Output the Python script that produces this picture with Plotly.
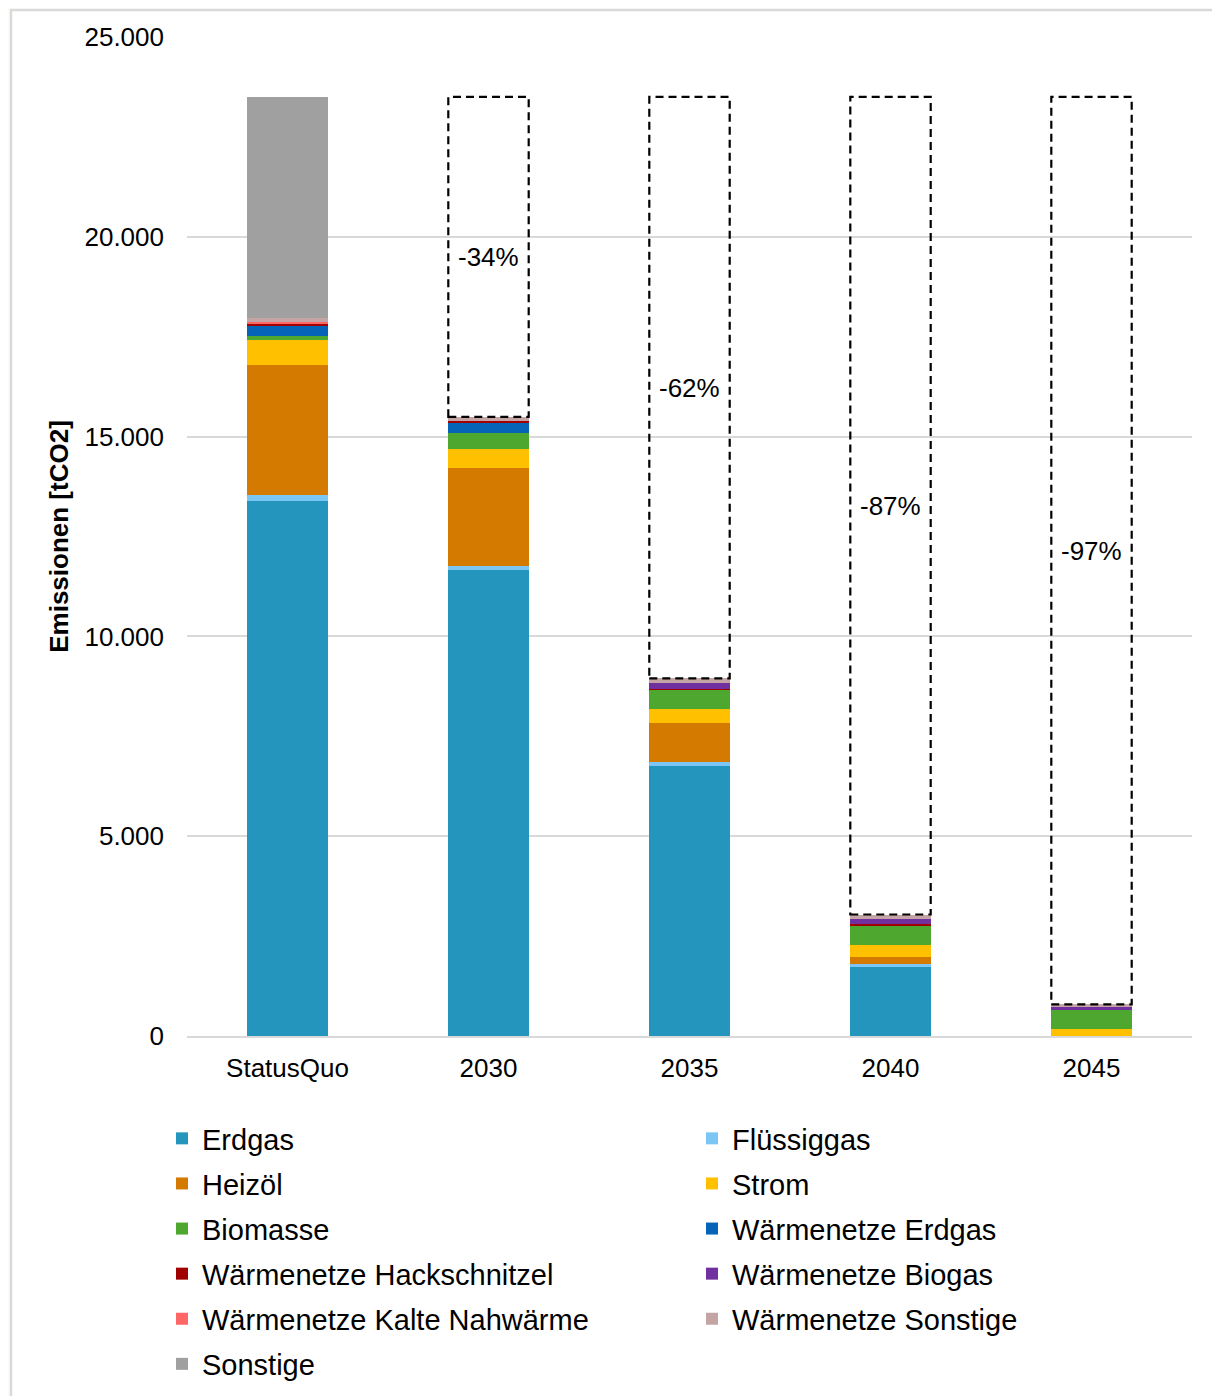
import plotly.graph_objects as go

categories = ["StatusQuo", "2030", "2035", "2040", "2045"]

erdgas = [13400, 11670, 6760, 1735, 0]
fluessiggas = [140, 100, 100, 60, 0]
heizoel = [3250, 2450, 985, 190, 0]
strom = [625, 475, 335, 290, 170]
biomasse = [100, 390, 490, 500, 480]
wn_erdgas = [275, 260, 0, 0, 0]
wn_hackschnitzel = [40, 40, 25, 30, 0]
wn_biogas = [0, 0, 140, 135, 100]
wn_kalte = [30, 0, 0, 0, 0]
wn_sonstige = [110, 110, 115, 100, 40]
sonstige = [5530, 0, 0, 0, 0]

series_names = ["Erdgas", "Flüssiggas", "Heizöl", "Strom", "Biomasse",
                "Wärmenetze Erdgas", "Wärmenetze Hackschnitzel", "Wärmenetze Biogas",
                "Wärmenetze Kalte Nahwärme", "Wärmenetze Sonstige", "Sonstige"]
series_values = [erdgas, fluessiggas, heizoel, strom, biomasse, wn_erdgas,
                 wn_hackschnitzel, wn_biogas, wn_kalte, wn_sonstige, sonstige]
series_colors = ["#2496BE", "#7CC6F5", "#D47A00", "#FFC000", "#4EA72E",
                 "#0563B8", "#A00000", "#7030A0", "#FF6666", "#C4A4A4", "#A0A0A0"]
# legend column: 6 left, 5 right (row-major reading)
legend_cols = ["legend", "legend2", "legend", "legend2", "legend", "legend2",
               "legend", "legend2", "legend", "legend2", "legend"]

y_ticks = [0, 5000, 10000, 15000, 20000, 25000]

OFF = 8  # default page body margin
W, H = 1220 - OFF, 1396 - OFF
ML, MT = 187 - OFF, 37 - OFF
pw, ph = 1005, 999
MR = W - ML - pw
MB = H - MT - ph

xpos = list(range(len(categories)))
bar_width = 0.4

fig = go.Figure()
for name, vals, col, lg in zip(series_names, series_values, series_colors, legend_cols):
    fig.add_trace(go.Bar(
        x=xpos, y=vals, name=name, marker_color=col, width=bar_width,
        marker_line_width=0, legend=lg, legendgroup=name,
    ))

totals = [sum(v[i] for v in series_values) for i in range(len(categories))]
base_total = totals[0]

shapes = []
annotations = []
for i in range(1, len(categories)):
    shapes.append(dict(type="rect", xref="x", yref="y",
                       x0=xpos[i] - bar_width / 2, x1=xpos[i] + bar_width / 2,
                       y0=totals[i], y1=base_total,
                       line=dict(color="#000000", width=2.2, dash="8px,5px"),
                       fillcolor="rgba(0,0,0,0)", layer="above"))
    pct = round((1 - totals[i] / base_total) * 100)
    annotations.append(dict(x=xpos[i], y=(totals[i] + base_total) / 2,
                            xref="x", yref="y", text=f"-{pct}%", showarrow=False,
                            font=dict(size=26, color="#000000")))

# page pixel -> paper coordinate helpers (for frame and legends only)
def px_to_paper_x(px):
    return (px - OFF - ML) / pw

def px_to_paper_y(py):
    return (MT + ph - (py - OFF)) / ph

shapes.append(dict(type="rect", xref="paper", yref="paper",
                   x0=px_to_paper_x(11), x1=px_to_paper_x(1218),
                   y0=px_to_paper_y(1410), y1=px_to_paper_y(10),
                   line=dict(color="#D9D9D9", width=2.5), fillcolor="#FFFFFF",
                   layer="below"))

legend_common = dict(orientation="v", xanchor="left", yanchor="top",
                     font=dict(family="Liberation Sans, Arial", size=29, color="#000000"),
                     traceorder="grouped", tracegroupgap=4.4, bgcolor="rgba(0,0,0,0)",
                     itemclick=False, itemdoubleclick=False)

fig.update_layout(
    width=W, height=H,
    margin=dict(l=ML, r=MR, t=MT, b=MB, autoexpand=False),
    barmode="stack",
    paper_bgcolor="#FCFCF7", plot_bgcolor="rgba(0,0,0,0)",
    separators=",.",
    font=dict(family="Liberation Sans, Arial", size=26, color="#000000"),
    shapes=shapes, annotations=annotations,
    legend=dict(x=px_to_paper_x(162), y=px_to_paper_y(1113), **legend_common),
    legend2=dict(x=px_to_paper_x(692), y=px_to_paper_y(1113), **legend_common),
    xaxis=dict(range=[-0.5, len(categories) - 0.5], tickvals=xpos, ticktext=categories,
               showgrid=False, zeroline=False,
               showline=True, linecolor="#D9D9D9", linewidth=1.5,
               tickfont=dict(size=26, color="#000000"), ticks="", ticklabelstandoff=8),
    yaxis=dict(range=[0, 25000], tickvals=y_ticks, tickformat=",d",
               showgrid=True, gridcolor="#D9D9D9", gridwidth=1.5, zeroline=False,
               showline=False, ticklabelstandoff=22,
               tickfont=dict(size=26, color="#000000"),
               title=dict(text="<b>Emissionen [tCO2]</b>", standoff=8,
                          font=dict(size=26, color="#000000"))),
)

fig.write_html("out.html")
